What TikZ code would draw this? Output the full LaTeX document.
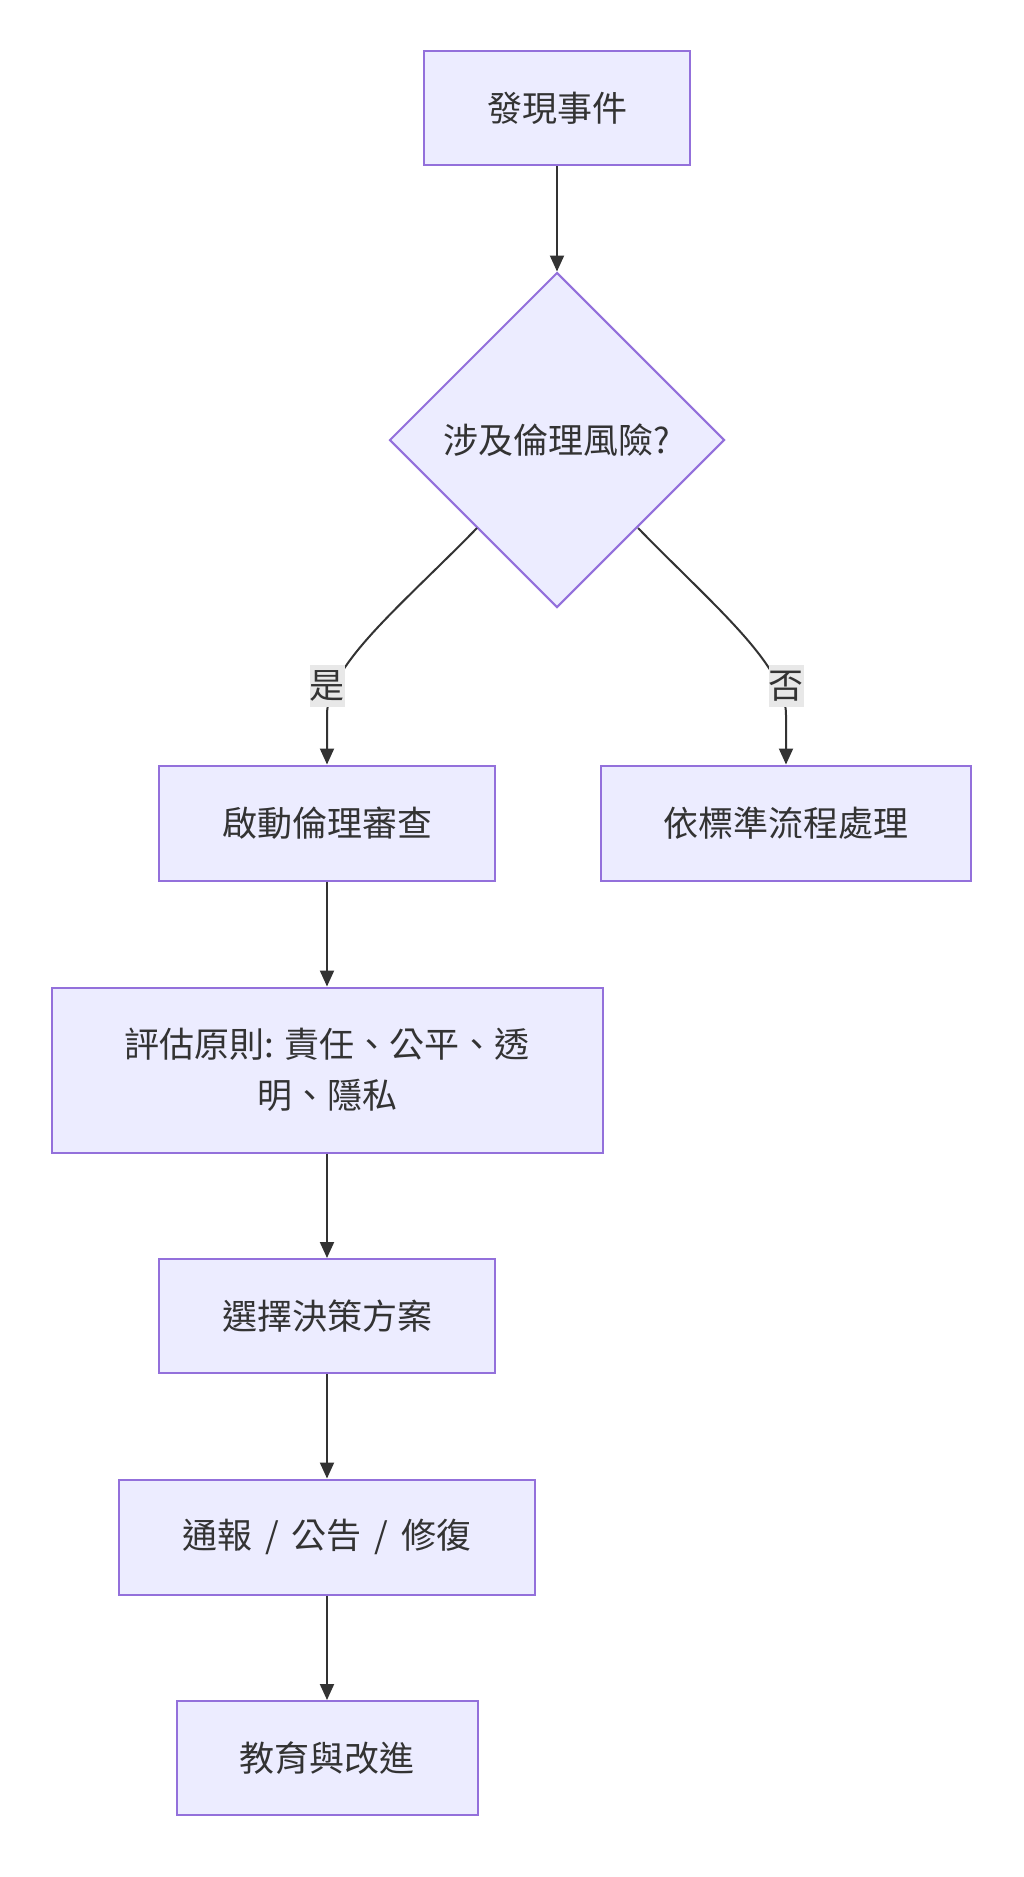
\documentclass[tikz,border=0pt]{standalone}
\usepackage{fontspec}
\newfontfamily\cjk{Noto Sans CJK TC}
\usetikzlibrary{arrows.meta,shapes.geometric}
\definecolor{boxfill}{HTML}{ECECFF}
\definecolor{boxline}{HTML}{9370DB}
\definecolor{ink}{HTML}{333333}
\definecolor{lblbg}{HTML}{E8E8E8}
\tikzset{
  box/.style={draw=boxline, fill=boxfill, line width=2pt, rectangle, inner sep=0pt, align=center,
    text=ink, font=\cjk\fontsize{35}{51}\selectfont},
  dia/.style={draw=boxline, fill=boxfill, line width=2pt, diamond, aspect=1, inner sep=0pt,
    minimum width=335pt, minimum height=335pt, text=ink, font=\cjk\fontsize{35}{51}\selectfont},
  conn/.style={draw=ink, line width=2pt, -{Triangle[length=16pt,width=14pt]}},
  lbl/.style={fill=lblbg, text=ink, inner xsep=0pt, inner ysep=6pt, font=\cjk\fontsize{35}{40}\selectfont}
}
\newcommand{\slsep}{\hspace{5pt} / \hspace{5pt}}
\begin{document}
\begin{tikzpicture}[x=1pt,y=-1pt]
\useasboundingbox (0,0) rectangle (1024,1877);
\node[box, minimum width=266pt, minimum height=114pt] (n1) at (557,108) {發現事件};
\node[dia] (n2) at (557,440) {涉及倫理風險?};
\node[box, minimum width=336pt, minimum height=115pt] (n3) at (327,823) {啟動倫理審查};
\node[box, minimum width=370pt, minimum height=115pt] (n4) at (786,823) {依標準流程處理};
\node[box, minimum width=551pt, minimum height=165pt] (n5) at (327,1070) {評估原則: 責任、公平、透\\明、隱私};
\node[box, minimum width=336pt, minimum height=114pt] (n6) at (327,1316) {選擇決策方案};
\node[box, minimum width=416pt, minimum height=115pt] (n7) at (327,1537) {通報\slsep 公告\slsep 修復};
\node[box, minimum width=301pt, minimum height=114pt] (n8) at (327,1758) {教育與改進};

\coordinate (yl) at (477,528);
\coordinate (nl) at (638,528);

\draw[conn] (n1) -- (n2);
\draw[conn] (yl) .. controls (400,607) and (327,665) .. (327,715) -- (n3.north);
\draw[conn] (nl) .. controls (715,607) and (786,665) .. (786,715) -- (n4.north);
\node[lbl] (ly) at (327,686) {是};
\node[lbl] (ln) at (786,686) {否};
\draw[conn] (n3) -- (n5);
\draw[conn] (n5) -- (n6);
\draw[conn] (n6) -- (n7);
\draw[conn] (n7) -- (n8);
\end{tikzpicture}
\end{document}
